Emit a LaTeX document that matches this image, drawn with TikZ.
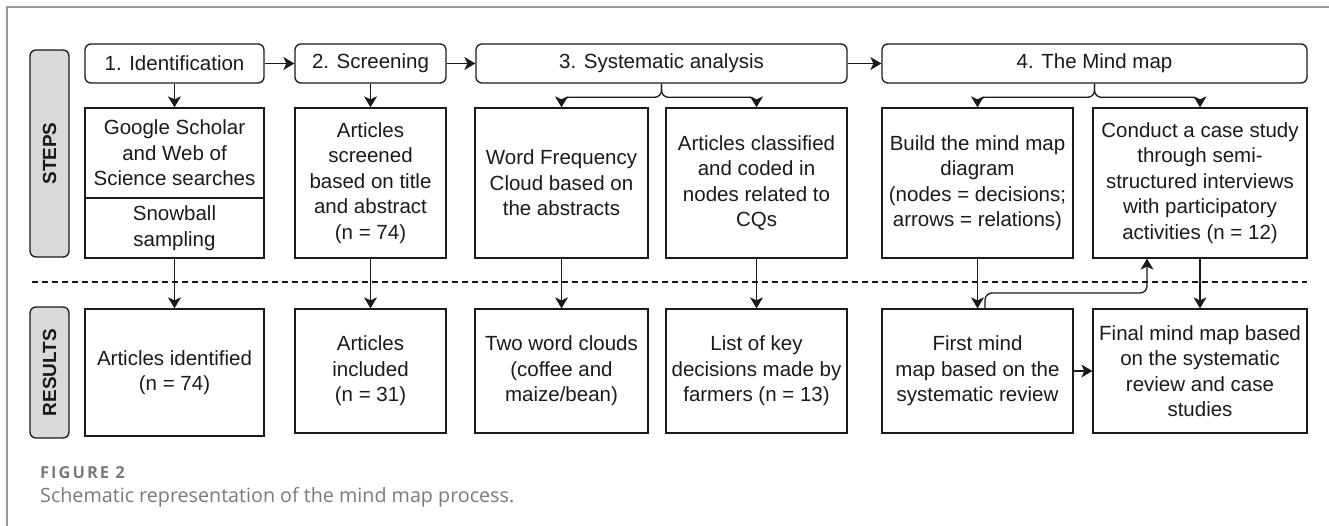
\documentclass[tikz,border=0pt]{standalone}
\usepackage{fontspec}
\usetikzlibrary{arrows.meta}
\newfontfamily\boxfont{Liberation Sans}
\newfontfamily\capfont{Open Sans}
\definecolor{linec}{HTML}{1A1A1A}
\definecolor{sidegray}{HTML}{D9D9D9}
\definecolor{framegray}{HTML}{9A9A9A}
\definecolor{capgray}{HTML}{7A7A7A}
\tikzset{
  stepbox/.style={draw=linec, line width=1.3pt, rounded corners=6pt, inner sep=0pt, text=linec,
    font=\boxfont\fontsize{20.5}{25.5}\selectfont},
  textbox/.style={draw=linec, line width=1.3pt, inner sep=0pt, align=center, text=linec,
    font=\boxfont\fontsize{20.5}{25.5}\selectfont},
  sidebox/.style={draw=linec, fill=sidegray, line width=1.3pt, rounded corners=6pt, inner sep=0pt,
    rotate=90, text=linec, font=\boxfont\bfseries\fontsize{19}{22}\selectfont},
  arr/.style={draw=linec, line width=1.3pt, -{Stealth[length=11pt,width=13pt,inset=3pt]}},
}
\begin{document}
\begin{tikzpicture}[x=1pt,y=-1pt]
\useasboundingbox (0,0) rectangle (1329,526);

% frame
\draw[framegray, line width=2pt] (7,526) -- (7,7) -- (1329,7);

% side labels
\node[sidebox, minimum width=207pt, minimum height=39pt] (steps) at (49.5,153.5) {STEPS};
\node[sidebox, minimum width=131pt, minimum height=39pt] (results) at (49.5,372.5) {RESULTS};

% steps
\node[stepbox, minimum width=179pt, minimum height=39pt] (ident) at (174.5,63.5) {1. Identification};
\node[stepbox, minimum width=151pt, minimum height=39pt] (screen) at (370.5,63.5) {2. Screening};
\node[stepbox, minimum width=371pt, minimum height=39pt] (sysan) at (661.5,63.5) {3. Systematic analysis};
\node[stepbox, minimum width=425pt, minimum height=39pt] (mindmap) at (1094.5,63.5) {4. The Mind map};

% methods
\node[textbox, minimum width=179pt, minimum height=90pt] (scholar) at (174.5,153) {Google Scholar\\and Web of\\Science searches};
\node[textbox, minimum width=179pt, minimum height=60pt] (snowball) at (174.5,228) {Snowball\\sampling};
\node[textbox, minimum width=151pt, minimum height=150pt] (screened) at (370.5,183) {Articles\\screened\\based on title\\and abstract\\(n = 74)};
\node[textbox, minimum width=173pt, minimum height=150pt] (wordfreq) at (561.5,183) {Word Frequency\\Cloud based on\\the abstracts};
\node[textbox, minimum width=181pt, minimum height=150pt] (coded) at (756.5,183) {Articles classified\\and coded in\\nodes related to\\CQs};
\node[textbox, minimum width=191pt, minimum height=150pt] (build) at (977.5,183) {Build the mind map\\diagram\\(nodes = decisions;\\arrows = relations)};
\node[textbox, minimum width=214pt, minimum height=150pt] (casestudy) at (1200,183) {Conduct a case study\\through semi-\\structured interviews\\with participatory\\activities (n = 12)};

% results
\node[textbox, minimum width=179pt, minimum height=127pt] (identified) at (174.5,372.5) {Articles identified\\(n = 74)};
\node[textbox, minimum width=151pt, minimum height=124pt] (included) at (370.5,371) {Articles\\included\\(n = 31)};
\node[textbox, minimum width=173pt, minimum height=124pt] (clouds) at (561.5,371) {Two word clouds\\(coffee and\\maize/bean)};
\node[textbox, minimum width=181pt, minimum height=124pt] (keylist) at (756.5,371) {List of key\\decisions made by\\farmers (n = 13)};
\node[textbox, minimum width=191pt, minimum height=124pt] (firstmap) at (977.5,371) {First mind\\map based on the\\systematic review};
\node[textbox, minimum width=214pt, minimum height=124pt] (finalmap) at (1200,371) {Final mind map based\\on the systematic\\review and case\\studies};

% divider
\draw[linec, line width=1.3pt, dash pattern=on 6pt off 4pt] (32,282) -- (1307,282);

% arrows
\draw[arr] (ident) -- (screen);
\draw[arr] (screen) -- (sysan);
\draw[arr] (sysan) -- (mindmap);
\foreach \from/\to in {ident/scholar, snowball/identified, screen/screened, screened/included,
  wordfreq/clouds, coded/keylist, build/firstmap, casestudy/finalmap, firstmap/finalmap}
  \draw[arr] (\from) -- (\to);

% branches
\foreach \from/\to in {sysan/wordfreq, sysan/coded, mindmap/build, mindmap/casestudy}
  \draw[arr] (\from.south) [rounded corners=7pt] |- ([yshift=10pt]\to.north) [sharp corners] -- (\to.north);

% feedback
\coordinate (loopturn) at (1147,293);
\draw[arr, rounded corners=7pt] ([xshift=7.5pt]firstmap.north) |- (loopturn) -- (loopturn |- casestudy.south);

% caption
\node[anchor=base west, inner sep=0pt, text=capgray, font=\capfont\bfseries\fontsize{16.5}{19}\selectfont\addfontfeature{LetterSpace=12}] (figno) at (40,478) {FIGURE 2};
\node[anchor=base west, inner sep=0pt, text=capgray, font=\capfont\fontsize{19.7}{23}\selectfont] (caption) at (40,502) {Schematic representation of the mind map process.};
\end{tikzpicture}
\end{document}
